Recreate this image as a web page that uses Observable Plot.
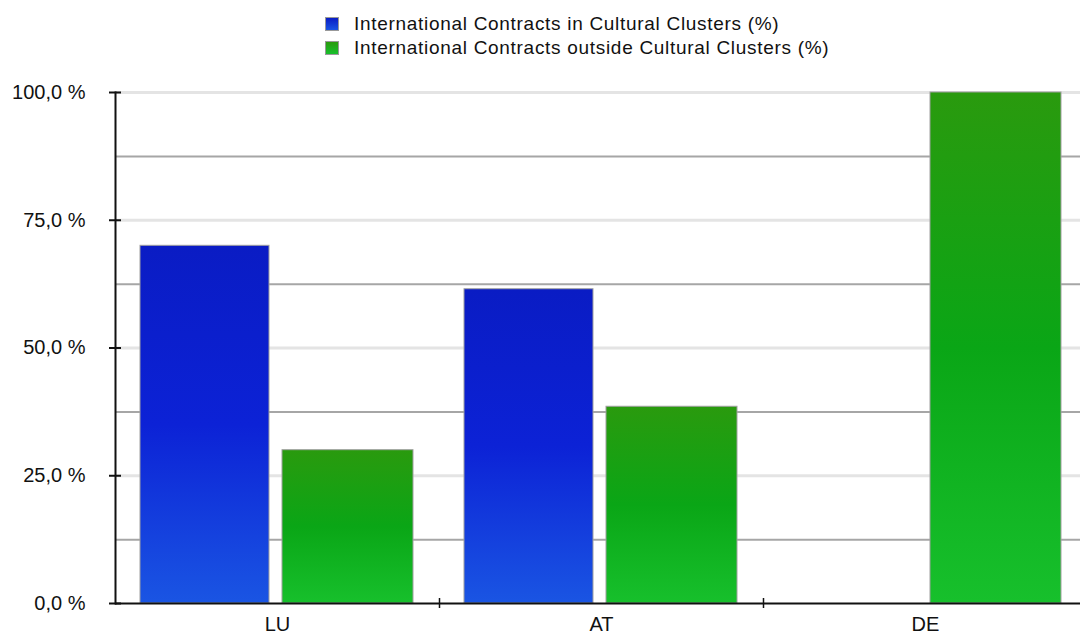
<!DOCTYPE html>
<html>
<head>
<meta charset="utf-8">
<script src="https://cdn.jsdelivr.net/npm/d3@7"></script>
<script src="https://cdn.jsdelivr.net/npm/@observablehq/plot@0.6"></script>
<style>
  html, body { margin: 0; padding: 0; background: #fff; }
  body { width: 1080px; height: 637px; overflow: hidden; font-family: "Liberation Sans", Arial, sans-serif; }
  #legend { position: relative; height: 70px; }
  .item { position: absolute; left: 325px; font-size: 19px; line-height: 22px; color: #111; display: flex; align-items: center; white-space: nowrap; }
  .lbl { letter-spacing: 0.7px; }
  .sw { width: 14px; height: 14px; margin-right: 15px; box-sizing: border-box; border: 1px solid #999; }
</style>
</head>
<body>
<div id="legend"></div>
<div id="chart"></div>
<script>
const countries = ["LU", "AT", "DE"];
const seriesNames = ["International Contracts in Cultural Clusters (%)", "International Contracts outside Cultural Clusters (%)"];
const inClusters = [70, 61.5, 0];
const outsideClusters = [30, 38.5, 100];
const majorTicks = [0, 25, 50, 75, 100];
const minorLines = [12.5, 37.5, 62.5, 87.5];

const gradients = [
  {id: "gBlue", top: "#0a1cc4", mid: "#0c22d6", bottom: "#1a55e3"},
  {id: "gGreen", top: "#2a9a0e", mid: "#0aa616", bottom: "#17c02c"}
];

// legend
const legend = document.getElementById("legend");
seriesNames.forEach((name, i) => {
  const g = gradients[i];
  const div = document.createElement("div");
  div.className = "item";
  div.style.top = (i === 0 ? 13 : 37) + "px";
  div.innerHTML = `<span class="sw" style="background: linear-gradient(${g.top}, ${g.bottom})"></span><span class="lbl">${name}</span>`;
  legend.appendChild(div);
});

const inData = countries.map((c, i) => ({country: c, value: inClusters[i]})).filter(d => d.value > 0);
const outData = countries.map((c, i) => ({country: c, value: outsideClusters[i]}));

const defsMark = () => {
  const defs = d3.create("svg:defs");
  gradients.forEach(g => {
    const lg = defs.append("linearGradient").attr("id", g.id).attr("x1", 0).attr("y1", 0).attr("x2", 0).attr("y2", 1);
    lg.append("stop").attr("offset", "0%").attr("stop-color", g.top);
    lg.append("stop").attr("offset", "50%").attr("stop-color", g.mid);
    lg.append("stop").attr("offset", "100%").attr("stop-color", g.bottom);
  });
  return defs.node();
};

const fmt = d => d.toFixed(1).replace(".", ",") + " %";

const chart = Plot.plot({
  width: 1080,
  height: 567,
  marginTop: 22,
  marginBottom: 34,
  marginLeft: 115,
  marginRight: -7,
  style: {fontFamily: "Liberation Sans, Arial, sans-serif", fontSize: "20px", color: "#111", background: "#fff", overflow: "visible"},
  x: {domain: countries, padding: 0, label: null},
  y: {domain: [0, 100], label: null},
  marks: [
    defsMark,
    Plot.ruleY(majorTicks.filter(d => d > 0), {stroke: "#e4e4e4", strokeWidth: 3}),
    Plot.ruleY(minorLines, {stroke: "#a6a6a6", strokeWidth: 2}),
    Plot.barY(inData, {x: "country", y: "value", fill: "url(#gBlue)", stroke: "#a0a0a0", strokeWidth: 1, insetLeft: 25, insetRight: 170}),
    Plot.barY(outData, {x: "country", y: "value", fill: "url(#gGreen)", stroke: "#a0a0a0", strokeWidth: 1, insetLeft: 167, insetRight: 26}),
    Plot.axisY({ticks: majorTicks, tickFormat: fmt, tickSize: 12, dx: 6, tickPadding: 24, strokeWidth: 2, stroke: "#111", fontSize: 20}),
    Plot.axisX({tickSize: 10, dx: 162, dy: -5, text: null, stroke: "#111", strokeWidth: 1.5}),
    Plot.axisX({tickSize: 0, tickPadding: 13, fontSize: 20}),
    Plot.ruleY([0], {stroke: "#111", strokeWidth: 2}),
    Plot.frame({anchor: "left", stroke: "#111", strokeWidth: 2})
  ]
});
document.getElementById("chart").appendChild(chart);
</script>
</body>
</html>
